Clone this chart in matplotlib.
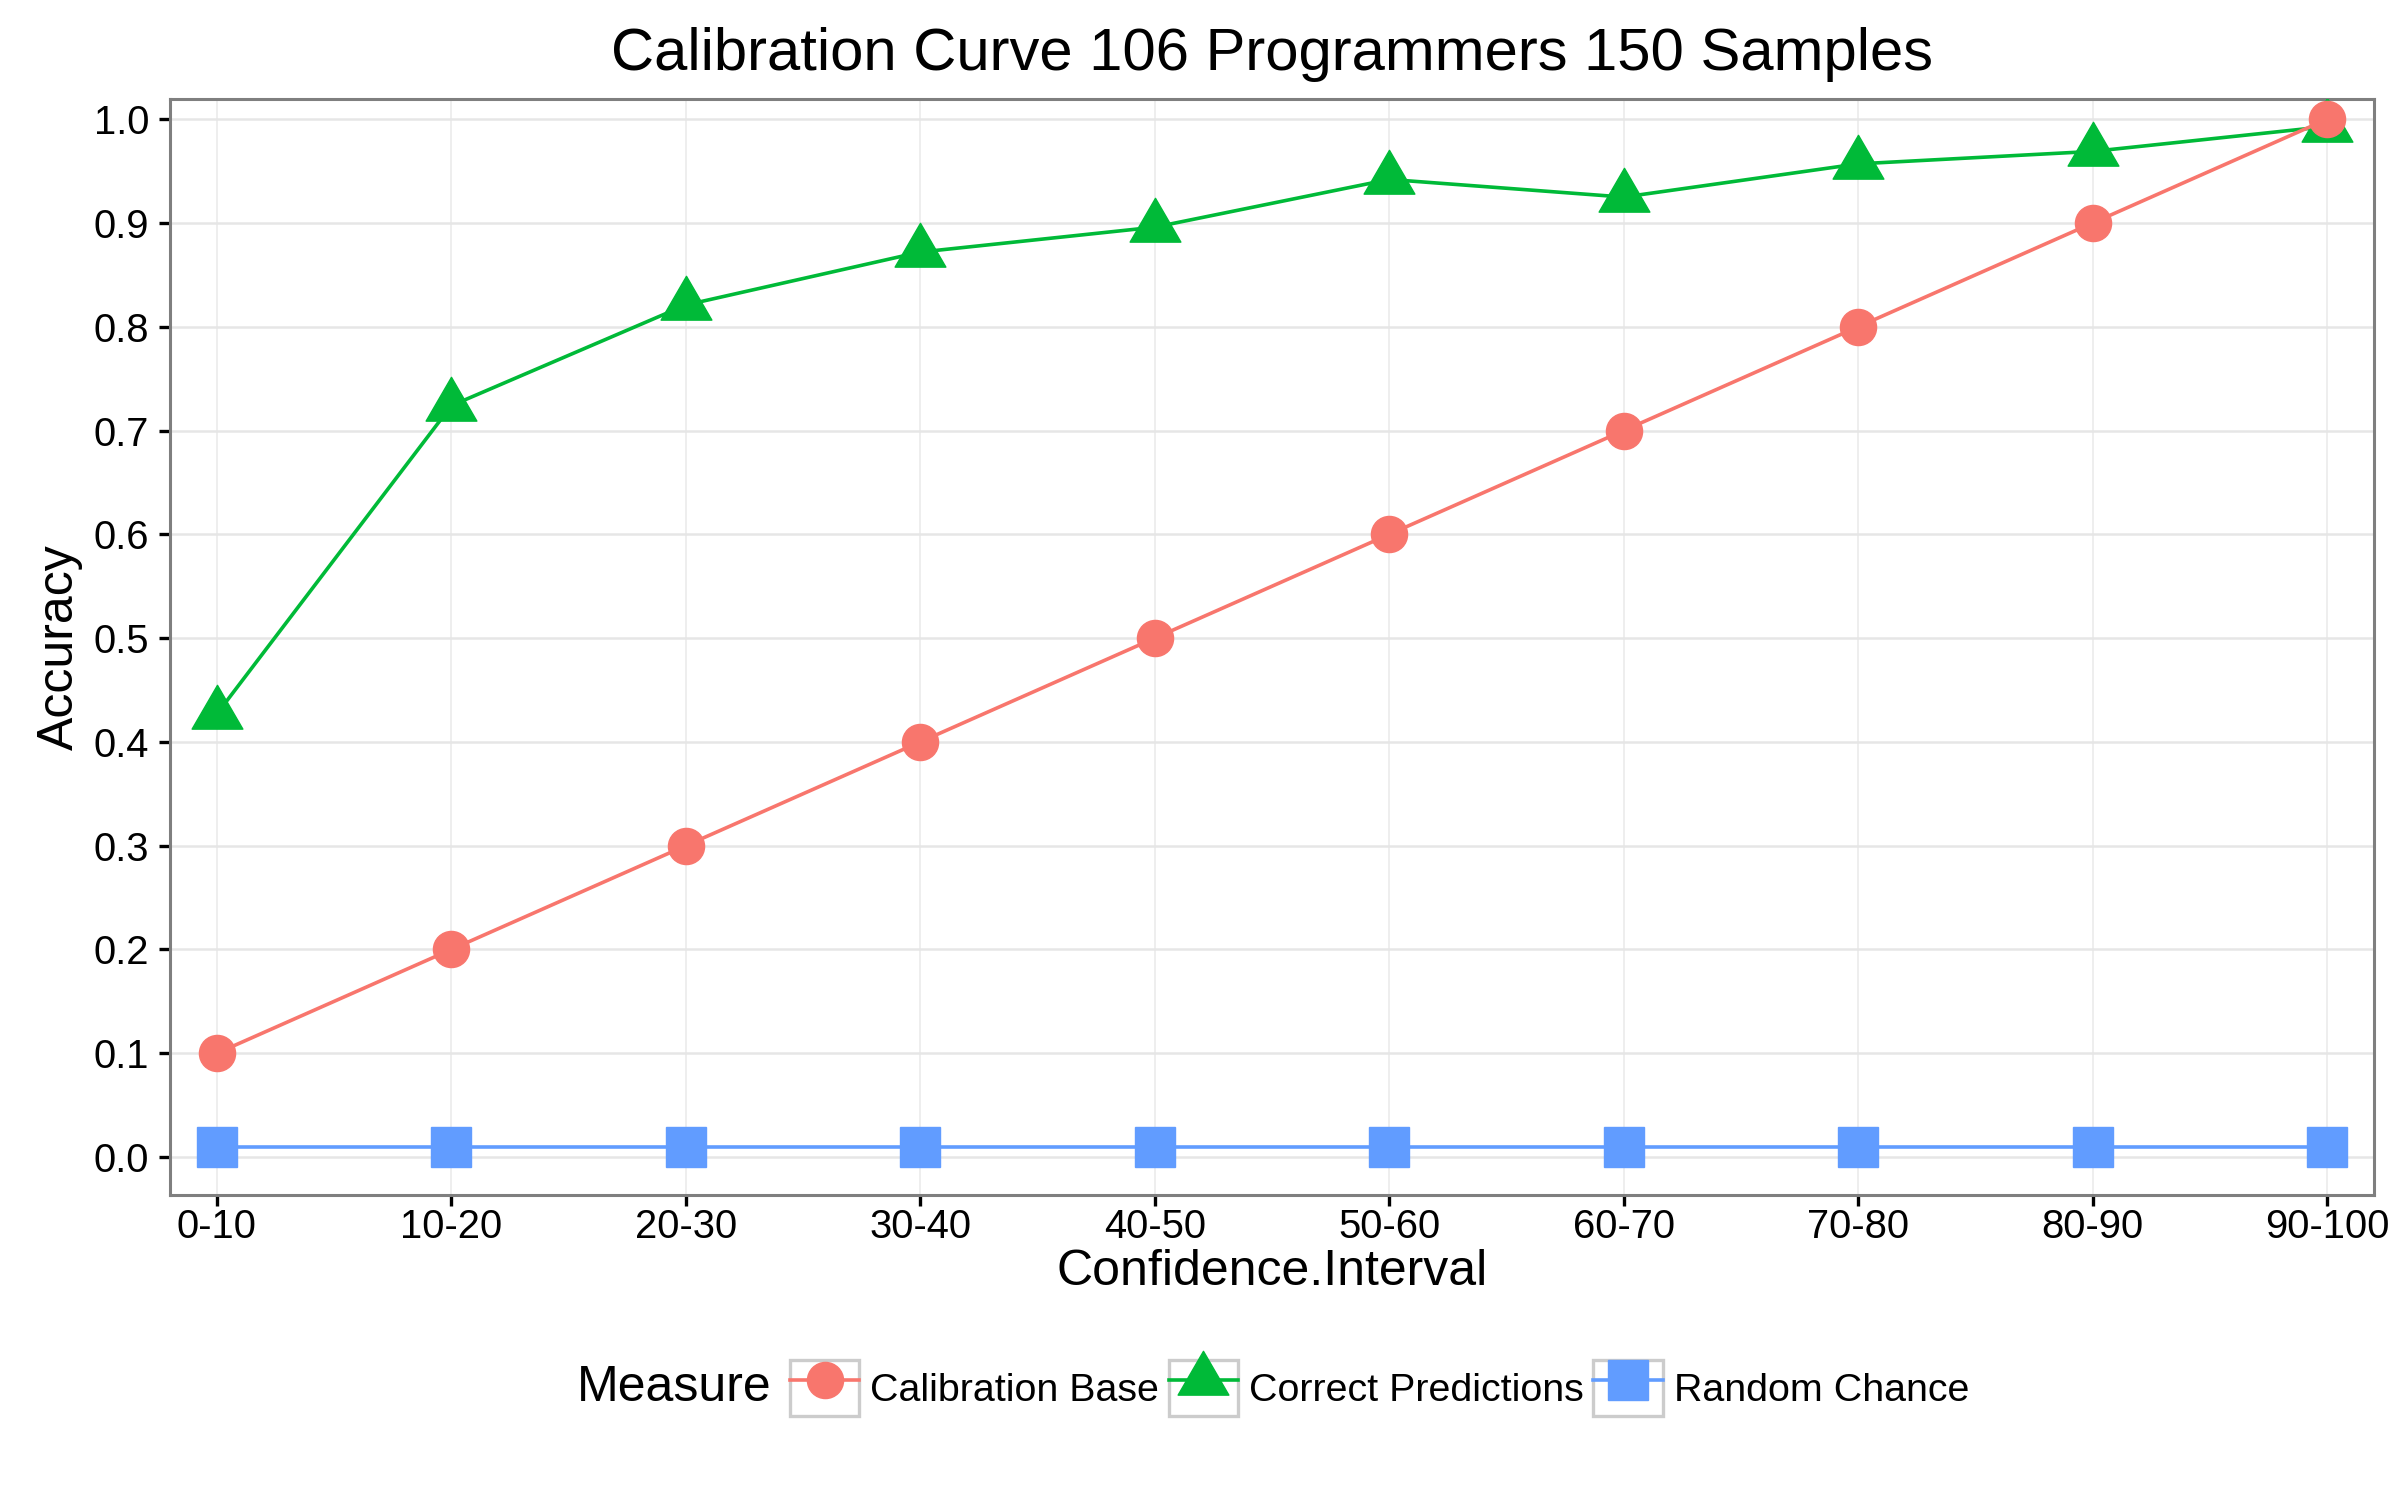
"""
Calibration curve: accuracy per confidence interval
"""
import numpy as np
import matplotlib
matplotlib.use('Agg')
import matplotlib.pyplot as plt
from matplotlib.legend_handler import HandlerLine2D
from matplotlib.patches import Rectangle
from matplotlib.path import Path

plt.rcParams['font.family'] = ['Liberation Sans', 'DejaVu Sans']

# Data
intervals = ['0-10', '10-20', '20-30', '30-40', '40-50',
             '50-60', '60-70', '70-80', '80-90', '90-100']
calibration_base = [0.1, 0.2, 0.3, 0.4, 0.5, 0.6, 0.7, 0.8, 0.9, 1.0]
correct_predictions = [0.427, 0.724, 0.821, 0.872, 0.896,
                       0.942, 0.925, 0.957, 0.969, 0.993]
random_chance = [0.01, 0.01, 0.01, 0.01, 0.01, 0.01, 0.01, 0.01, 0.01, 0.01]
y_ticks = [0.0, 0.1, 0.2, 0.3, 0.4, 0.5, 0.6, 0.7, 0.8, 0.9, 1.0]

# ggplot-like colours
red = '#F8766D'
green = '#00BA38'
blue = '#619CFF'

# triangle centred on its centroid, like R's pch 17
tri = Path([(0, 29.3), (-25.5, -14.7), (25.5, -14.7), (0, 29.3)],
           [Path.MOVETO, Path.LINETO, Path.LINETO, Path.CLOSEPOLY])


class BoxedKey(HandlerLine2D):
    """Legend key with a grey box around it"""
    def create_artists(self, legend, orig_handle, xdescent, ydescent,
                       width, height, fontsize, trans):
        arts = super().create_artists(legend, orig_handle, xdescent, ydescent,
                                      width, height, fontsize, trans)
        box = Rectangle((-xdescent, -ydescent), width, height,
                        facecolor='white', edgecolor='#CCCCCC', lw=2.4,
                        transform=trans)
        return [box] + list(arts)


fig = plt.figure(figsize=(24, 15), dpi=100)
ax = fig.add_axes([170/2400, 1 - 1195/1500, 2204/2400, 1096/1500])

x = np.arange(len(intervals))

ax.plot(x, random_chance, color=blue, lw=2.6, marker='s', ms=29,
        label='Random Chance', zorder=3)
ax.plot(x, correct_predictions, color=green, lw=2.6, marker=tri, ms=42,
        label='Correct Predictions', zorder=4)
ax.plot(x, calibration_base, color=red, lw=2.6, marker='o', ms=26,
        label='Calibration Base', zorder=5)

# Axes limits and ticks
ax.set_xlim(-0.2, len(intervals) - 1 + 0.2)
ax.set_ylim(-0.0366, 1.0195)
ax.set_xticks(x)
ax.set_xticklabels(intervals)
ax.set_yticks(y_ticks)
ax.set_yticklabels(['%.1f' % v for v in y_ticks])
ax.tick_params(labelsize=28.8, length=8, width=2.4, color='black',
               labelcolor='black')
ax.tick_params(axis='y', pad=7)
ax.tick_params(axis='x', pad=1)

# Grid and border
ax.grid(True, axis='y', color='#E6E6E6', lw=1.8)
ax.grid(True, axis='x', color='#EBEBEB', lw=1.2)
ax.set_axisbelow(True)
for s in ax.spines.values():
    s.set_color('#7F7F7F')
    s.set_linewidth(2.2)

# Labels and title
ax.set_xlabel('Confidence.Interval', fontsize=36, va='center')
ax.xaxis.set_label_coords(0.5, -0.0705)
ax.set_ylabel('Accuracy', fontsize=36, va='center')
ax.yaxis.set_label_coords(-0.050, 0.5)
ax.set_title('Calibration Curve 106 Programmers 150 Samples',
             fontsize=43, va='center', y=1.033)

# Legend at the bottom, title on the left
fig.text(577/2400, 1 - 1388/1500, 'Measure', fontsize=36,
         ha='left', va='center')
h, l = ax.get_legend_handles_labels()
order = [2, 1, 0]
fig.legend([h[i] for i in order], [l[i] for i in order], ncol=3,
           loc='center left', bbox_to_anchor=(790/2400, 1 - 1388/1500),
           frameon=False, fontsize=28.4, handlelength=1.75, handleheight=1.83,
           handletextpad=0.28, columnspacing=0.25, borderpad=0,
           borderaxespad=0,
           handler_map={h[0]: BoxedKey(), h[1]: BoxedKey(), h[2]: BoxedKey()})

fig.savefig('out.png', dpi=100, facecolor='white')
